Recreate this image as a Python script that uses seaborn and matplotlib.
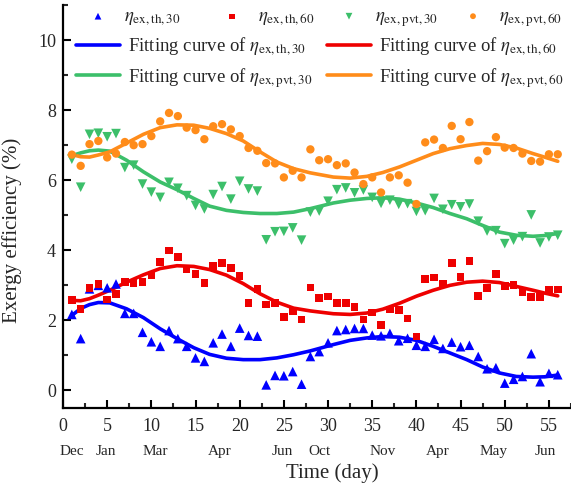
import numpy as np
import pandas as pd
import matplotlib
matplotlib.use("Agg")
import matplotlib.pyplot as plt
import seaborn as sns
from matplotlib.ticker import MultipleLocator
from matplotlib.legend import Legend

# ---------------- data ----------------
days = list(range(1, 57))

eta_th30 = [2.17, 1.48, 2.90, 3.00, 2.93, 3.04, 2.20, 2.20, 1.66, 1.39,
            1.26, 1.71, 1.48, 1.26, 0.93, 0.83, 1.36, 1.61, 1.26, 1.78,
            1.57, 1.55, 0.16, 0.43, 0.42, 0.54, 0.18, 0.97, 1.11, 1.36,
            1.71, 1.74, 1.77, 1.77, 1.58, 1.56, 1.63, 1.42, 1.49, 1.29,
            1.26, 1.46, 1.20, 1.38, 1.25, 1.29, 0.97, 0.62, 0.65, 0.21,
            0.32, 0.40, 1.05, 0.25, 0.49, 0.45]
eta_th60 = [2.58, 2.32, 2.92, 3.04, 2.60, 2.75, 3.10, 3.07, 3.09, 3.28,
            3.66, 4.00, 3.81, 3.46, 3.33, 3.07, 3.55, 3.64, 3.50, 3.27,
            2.50, 2.89, 2.45, 2.49, 2.09, 2.26, 2.03, 2.94, 2.64, 2.68,
            2.49, 2.49, 2.39, 2.03, 2.23, 1.86, 2.31, 2.29, 2.05, 1.54,
            3.18, 3.22, 3.04, 3.64, 3.24, 3.69, 2.69, 2.92, 3.32, 2.99,
            3.01, 2.81, 2.66, 2.67, 2.87, 2.88]
eta_pvt30 = [6.60, 5.80, 7.31, 7.34, 7.24, 7.33, 6.36, 6.43, 5.89, 5.66,
             5.51, 5.94, 5.77, 5.56, 5.28, 5.18, 5.59, 5.82, 5.46, 5.97,
             5.75, 5.69, 4.30, 4.53, 4.54, 4.64, 4.29, 5.09, 5.12, 5.40,
             5.73, 5.78, 5.64, 5.72, 5.51, 5.34, 5.43, 5.31, 5.33, 5.11,
             5.13, 5.48, 5.17, 5.30, 5.24, 5.32, 4.83, 4.55, 4.56, 4.19,
             4.29, 4.39, 5.01, 4.21, 4.38, 4.43]
eta_pvt60 = [6.73, 6.41, 7.03, 7.12, 6.65, 6.76, 7.09, 7.00, 7.03, 7.26,
             7.68, 7.92, 7.83, 7.50, 7.43, 7.17, 7.54, 7.60, 7.45, 7.26,
             6.92, 6.84, 6.49, 6.48, 6.08, 6.27, 6.08, 6.88, 6.57, 6.60,
             6.43, 6.48, 6.22, 5.89, 6.08, 5.65, 6.08, 6.14, 5.93, 5.32,
             7.08, 7.16, 6.92, 7.55, 7.17, 7.66, 6.56, 6.83, 7.23, 6.93,
             6.92, 6.76, 6.55, 6.53, 6.74, 6.74]

# fitting curves
fit_days = [1, 2, 3, 4, 5.3, 7.2, 9.1, 11, 12.9, 14.8, 16.6, 18.5, 20.4, 22.3,
            24.2, 26.1, 28, 30.6, 32.5, 34.4, 36.2, 38.1, 40, 41.9, 43.8,
            45.7, 47.5, 49.4, 51.3, 53.2, 54.5, 56]
fit_th30 = [2.14, 2.34, 2.45, 2.51, 2.50, 2.33, 2.08, 1.76, 1.48, 1.22, 1.03,
            0.92, 0.88, 0.88, 0.93, 1.02, 1.13, 1.31, 1.43, 1.50, 1.54, 1.52,
            1.43, 1.26, 1.07, 0.88, 0.67, 0.50, 0.40, 0.38, 0.39, 0.44]
fit_th60 = [2.57, 2.56, 2.62, 2.72, 2.86, 3.09, 3.30, 3.48, 3.56, 3.54, 3.45,
            3.29, 3.05, 2.76, 2.52, 2.35, 2.27, 2.19, 2.17, 2.21, 2.32, 2.49,
            2.69, 2.86, 3.00, 3.09, 3.12, 3.08, 2.97, 2.86, 2.78, 2.70]
fit_pvt30 = [6.70, 6.78, 6.84, 6.86, 6.83, 6.57, 6.24, 5.95, 5.73, 5.48, 5.26,
             5.14, 5.08, 5.05, 5.05, 5.09, 5.19, 5.35, 5.43, 5.48, 5.50, 5.46,
             5.35, 5.22, 5.05, 4.90, 4.71, 4.52, 4.43, 4.40, 4.42, 4.48]
fit_pvt60 = [6.73, 6.67, 6.66, 6.72, 6.81, 7.06, 7.31, 7.50, 7.58, 7.57, 7.48,
             7.33, 7.12, 6.81, 6.52, 6.33, 6.21, 6.09, 6.06, 6.11, 6.22, 6.38,
             6.57, 6.76, 6.90, 6.99, 7.05, 7.02, 6.92, 6.76, 6.66, 6.54]

x_ticks = [0, 5, 10, 15, 20, 25, 30, 35, 40, 45, 50, 55]
y_ticks = [0, 2, 4, 6, 8, 10]
month_labels = ["Dec", "Jan", "Mar", "Apr", "Jun", "Oct", "Nov", "Apr", "May", "Jun"]
month_pos = [1.0, 4.85, 10.5, 17.7, 24.8, 29.0, 36.2, 42.4, 48.7, 54.6]

# ---------------- style ----------------
sns.set_style("ticks")
plt.rcParams["font.family"] = ["Liberation Serif", "DejaVu Serif"]
plt.rcParams["mathtext.fontset"] = "stix"

BLUE = "#0000FF"
RED = "#EE0000"
GREEN = "#3CBF6A"
ORANGE = "#FF8C1A"

W, H = 571, 484
AX_L, AX_R, AX_T, AX_B = 63, 571, 5, 408
fig = plt.figure(figsize=(W / 100, H / 100), dpi=100)
ax = fig.add_axes([AX_L / W, (H - AX_B) / H, (AX_R - AX_L) / W, (AX_B - AX_T) / H])
AXW, AXH = AX_R - AX_L, AX_B - AX_T

df = pd.DataFrame({"day": days, "th30": eta_th30, "th60": eta_th60,
                   "pvt30": eta_pvt30, "pvt60": eta_pvt60})
fdf = pd.DataFrame({"day": fit_days, "th30": fit_th30, "th60": fit_th60,
                    "pvt30": fit_pvt30, "pvt60": fit_pvt60})

series = [("th30", BLUE, "^", 48, r"$\eta_{\mathrm{ex,th,30}}$"),
          ("th60", RED, "s", 30, r"$\eta_{\mathrm{ex,th,60}}$"),
          ("pvt30", GREEN, "v", 48, r"$\eta_{\mathrm{ex,pvt,30}}$"),
          ("pvt60", ORANGE, "o", 36, r"$\eta_{\mathrm{ex,pvt,60}}$")]

for key, col, mk, size, lab in series:
    sns.lineplot(data=fdf, x="day", y=key, color=col, lw=2.6, ax=ax,
                 label="Fitting curve of " + lab, zorder=2,
                 solid_joinstyle="round", solid_capstyle="round")
for key, col, mk, size, lab in series:
    sns.scatterplot(data=df, x="day", y=key, color=col, marker=mk, s=size,
                    edgecolor="none", linewidth=0, ax=ax, label=lab, zorder=3)

handles, labels = ax.get_legend_handles_labels()
ln_h, ln_l = handles[:4], labels[:4]
sc_h, sc_l = handles[4:], labels[4:]
if ax.get_legend() is not None:
    ax.get_legend().remove()

ax.set_xlim(0, 57.5)
ax.set_ylim(-0.5, 11)
ax.set_xticks(x_ticks)
ax.set_yticks(y_ticks)
ax.xaxis.set_minor_locator(MultipleLocator(2.5))
ax.yaxis.set_minor_locator(MultipleLocator(1))
ax.tick_params(which="major", direction="in", length=6, width=1.5,
               labelsize=13, pad=7, color="black")
ax.tick_params(which="minor", direction="in", length=3.5, width=1.5)
ax.tick_params(axis="y", pad=5)
for s in ["top", "right"]:
    ax.spines[s].set_visible(False)
for s in ["left", "bottom"]:
    ax.spines[s].set_linewidth(1.6)
    ax.spines[s].set_color("black")

ax.set_xlabel("Time (day)", fontsize=15)
ax.set_ylabel("Exergy efficiency (%)", fontsize=15)
ax.xaxis.set_label_coords(0.53, -0.138)
ax.yaxis.set_label_coords(-0.081, 0.44)

for m, p in zip(month_labels, month_pos):
    ax.text(p, -0.108, m, transform=ax.get_xaxis_transform(),
            ha="center", va="center", fontsize=11)

FS = 13.5
FSPX = FS * 100 / 72
handle_px = 44

# first legend row: one entry per marker, positioned individually
marker_x = [98, 232, 349, 473]
for h, l, mx in zip(sc_h, sc_l, marker_x):
    lg = Legend(ax, [h], [l], loc="upper left",
                bbox_to_anchor=((mx - handle_px / 2 - AX_L) / AXW,
                                (AX_B - 8) / AXH),
                frameon=False, fontsize=FS, handlelength=handle_px / FSPX,
                handletextpad=0.2, markerscale=0.7,
                borderpad=0, borderaxespad=0)
    ax.add_artist(lg)

# fitting-curve entries: two columns, each placed at its own x
col_x = [76, 327]
col_entries = [([ln_h[0], ln_h[2]], [ln_l[0], ln_l[2]]),
               ([ln_h[1], ln_h[3]], [ln_l[1], ln_l[3]])]
for cx, (hh, ll) in zip(col_x, col_entries):
    lg = Legend(ax, hh, ll, loc="upper left",
                bbox_to_anchor=((cx - AX_L) / AXW, (AX_B - 36) / AXH),
                frameon=False, fontsize=FS,
                handlelength=handle_px / FSPX, handletextpad=0.45,
                labelspacing=0.4, borderpad=0, borderaxespad=0)
    ax.add_artist(lg)

fig.savefig("out.png", dpi=100)
